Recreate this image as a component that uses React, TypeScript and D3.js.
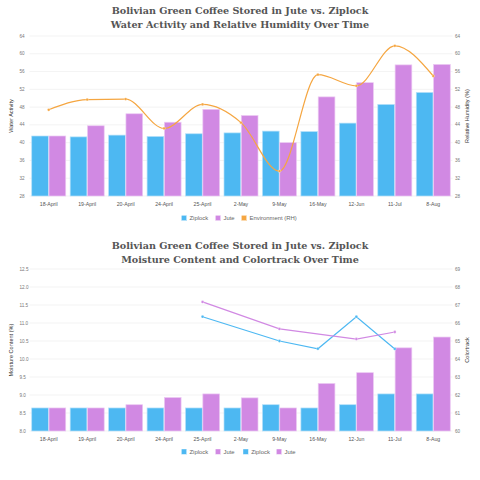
import React from 'react';
import * as d3 from 'd3';

const categories = ['18-April', '19-April', '20-April', '24-April', '25-April', '2-May', '9-May', '16-May', '12-Jun', '11-Jul', '8-Aug'];

// top chart
const waZiplock = [41.5, 41.3, 41.7, 41.4, 42.0, 42.2, 42.6, 42.5, 44.4, 48.6, 51.3];
const waJute = [41.5, 43.8, 46.5, 44.6, 47.5, 46.1, 40.0, 50.3, 53.5, 57.5, 57.6];
const envRH = [47.4, 49.7, 49.8, 43.2, 48.6, 44.5, 33.6, 55.3, 52.8, 61.8, 55.0];
const waTicks = [28, 32, 36, 40, 44, 48, 52, 56, 60, 64];

// bottom chart
const mcZiplock = [8.64, 8.64, 8.64, 8.64, 8.64, 8.64, 8.73, 8.64, 8.73, 9.03, 9.03];
const mcJute = [8.64, 8.64, 8.73, 8.93, 9.03, 8.92, 8.64, 9.32, 9.62, 10.31, 10.61];
const ctZiplock: (number | null)[] = [null, null, null, null, 66.35, null, 65.0, 64.57, 66.35, 64.56, null];
const ctJute: (number | null)[] = [null, null, null, null, 67.17, null, 65.67, null, 65.11, 65.5, null];
const mcTicks = [8.0, 8.5, 9.0, 9.5, 10.0, 10.5, 11.0, 11.5, 12.0, 12.5];
const ctTicks = [60, 61, 62, 63, 64, 65, 66, 67, 68, 69];

const BLUE = '#4db8f2';
const PURPLE = '#d189e3';
const ORANGE = '#f5a641';
const SANS = '"Liberation Sans", Arial, sans-serif';
const SERIF = '"DejaVu Serif", serif';

const X0 = 29.5;
const X1 = 452.5;

const x = d3.scaleBand<string>().domain(categories).range([X0, X1]).padding(0);
const groupW = x.bandwidth() * 0.9;
const barW = groupW / 2;

type LineSeries = { values: (number | null)[]; color: string; curve: boolean };

function Bars({ a, b, y, bottom }: { a: number[]; b: number[]; y: d3.ScaleLinear<number, number>; bottom: number }) {
  return (
    <g>
      {categories.map((c, i) => {
        const cx = x(c)! + x.bandwidth() / 2;
        return (
          <g key={c}>
            <rect x={cx - groupW / 2 + 0.3} y={y(a[i])} width={barW - 0.6} height={bottom - y(a[i])}
              fill={BLUE} stroke="#b5e0f9" strokeWidth={0.7} />
            <rect x={cx + 0.3} y={y(b[i])} width={barW - 0.6} height={bottom - y(b[i])}
              fill={PURPLE} stroke="#ecc9f3" strokeWidth={0.7} />
          </g>
        );
      })}
    </g>
  );
}

function Lines({ series, y }: { series: LineSeries[]; y: d3.ScaleLinear<number, number> }) {
  return (
    <g>
      {series.map((s, k) => {
        const pts = s.values
          .map((v, i) => ({ v, c: categories[i] }))
          .filter(p => p.v !== null) as { v: number; c: string }[];
        const line = d3
          .line<{ v: number; c: string }>()
          .x(p => x(p.c)! + x.bandwidth() / 2)
          .y(p => y(p.v))
          .curve(s.curve ? d3.curveMonotoneX : d3.curveLinear);
        return (
          <g key={k}>
            <path d={line(pts) || ''} fill="none" stroke={s.color} strokeWidth={1.2} />
            {pts.map(p => (
              <circle key={p.c} cx={x(p.c)! + x.bandwidth() / 2} cy={y(p.v)} r={1.4} fill={s.color} stroke="#fff" strokeWidth={0.3} />
            ))}
          </g>
        );
      })}
    </g>
  );
}

function Panel(props: {
  title: string[];
  titleY: number;
  top: number;
  bottom: number;
  left: d3.ScaleLinear<number, number>;
  leftTicks: number[];
  leftFmt: (v: number) => string;
  right: d3.ScaleLinear<number, number>;
  rightTicks: number[];
  leftTitle: string;
  rightTitle: string;
  barsA: number[];
  barsB: number[];
  lines: LineSeries[];
  lineScale: d3.ScaleLinear<number, number>;
  legend: { label: string; color: string; x: number }[];
  legendY: number;
}) {
  const { top, bottom, left, right } = props;
  const mid = (top + bottom) / 2;
  return (
    <g>
      {props.title.map((t, i) => (
        <text key={i} x={240} y={props.titleY + i * 14} textAnchor="middle" fontFamily={SERIF} fontWeight="bold"
          fontSize={9.6} fill="#555">{t}</text>
      ))}
      {props.leftTicks.map(t => (
        <g key={t}>
          <line x1={X0} x2={X1} y1={left(t)} y2={left(t)} stroke="#ebebeb" strokeWidth={0.6} />
          <text x={19.5} y={left(t)} dy="0.35em" fontFamily={SANS} fontSize={4.6} fill="#777">{props.leftFmt(t)}</text>
        </g>
      ))}
      {props.rightTicks.map(t => (
        <text key={t} x={455} y={right(t)} dy="0.35em" fontFamily={SANS} fontSize={4.6} fill="#777">{t}</text>
      ))}
      <text transform={`translate(12.5,${mid}) rotate(-90)`} textAnchor="middle" fontFamily={SANS} fontSize={5.6} fill="#333">
        {props.leftTitle}
      </text>
      <text transform={`translate(469,${mid}) rotate(-90)`} textAnchor="middle" fontFamily={SANS} fontSize={5.6} fill="#333">
        {props.rightTitle}
      </text>
      <Bars a={props.barsA} b={props.barsB} y={left} bottom={bottom} />
      <Lines series={props.lines} y={props.lineScale} />
      {categories.map(c => (
        <text key={c} x={x(c)! + x.bandwidth() / 2} y={bottom + 9.5} textAnchor="middle" fontFamily={SANS} fontSize={5.2} fill="#555">
          {c}
        </text>
      ))}
      {props.legend.map((l, i) => (
        <g key={i}>
          <rect x={l.x - 2.7} y={props.legendY - 2.7} width={5.4} height={5.4} fill={l.color} stroke="#fff" strokeWidth={0.4} />
          <text x={l.x + 5.5} y={props.legendY} dy="0.35em" fontFamily={SANS} fontSize={5.9} fill="#666">{l.label}</text>
        </g>
      ))}
    </g>
  );
}

export default function App() {
  const waY = d3.scaleLinear().domain([28, 64]).range([196, 36]);
  const mcY = d3.scaleLinear().domain([8, 12.5]).range([431, 269]);
  const ctY = d3.scaleLinear().domain([60, 69]).range([431, 269]);
  return (
    <svg width={480} height={480} style={{ position: 'absolute', left: 0, top: 0, background: '#fff' }}>
      <Panel
        title={['Bolivian Green Coffee Stored in Jute vs. Ziplock', 'Water Activity and Relative Humidity Over Time']}
        titleY={14}
        top={36}
        bottom={196}
        left={waY}
        leftTicks={waTicks}
        leftFmt={v => String(v)}
        right={waY}
        rightTicks={waTicks}
        leftTitle="Water Activity"
        rightTitle="Relative Humidity (%)"
        barsA={waZiplock}
        barsB={waJute}
        lines={[{ values: envRH, color: ORANGE, curve: true }]}
        lineScale={waY}
        legend={[
          { label: 'Ziplock', color: BLUE, x: 184 },
          { label: 'Jute', color: PURPLE, x: 218 },
          { label: 'Environment (RH)', color: ORANGE, x: 244 },
        ]}
        legendY={218}
      />
      <Panel
        title={['Bolivian Green Coffee Stored in Jute vs. Ziplock', 'Moisture Content and Colortrack Over Time']}
        titleY={249}
        top={269}
        bottom={431}
        left={mcY}
        leftTicks={mcTicks}
        leftFmt={v => v.toFixed(1)}
        right={ctY}
        rightTicks={ctTicks}
        leftTitle="Moisture Content (%)"
        rightTitle="Colortrack"
        barsA={mcZiplock}
        barsB={mcJute}
        lines={[
          { values: ctZiplock, color: BLUE, curve: false },
          { values: ctJute, color: PURPLE, curve: false },
        ]}
        lineScale={ctY}
        legend={[
          { label: 'Ziplock', color: BLUE, x: 184 },
          { label: 'Jute', color: PURPLE, x: 218 },
          { label: 'Ziplock', color: BLUE, x: 245.7 },
          { label: 'Jute', color: PURPLE, x: 279 },
        ]}
        legendY={451.7}
      />
    </svg>
  );
}
